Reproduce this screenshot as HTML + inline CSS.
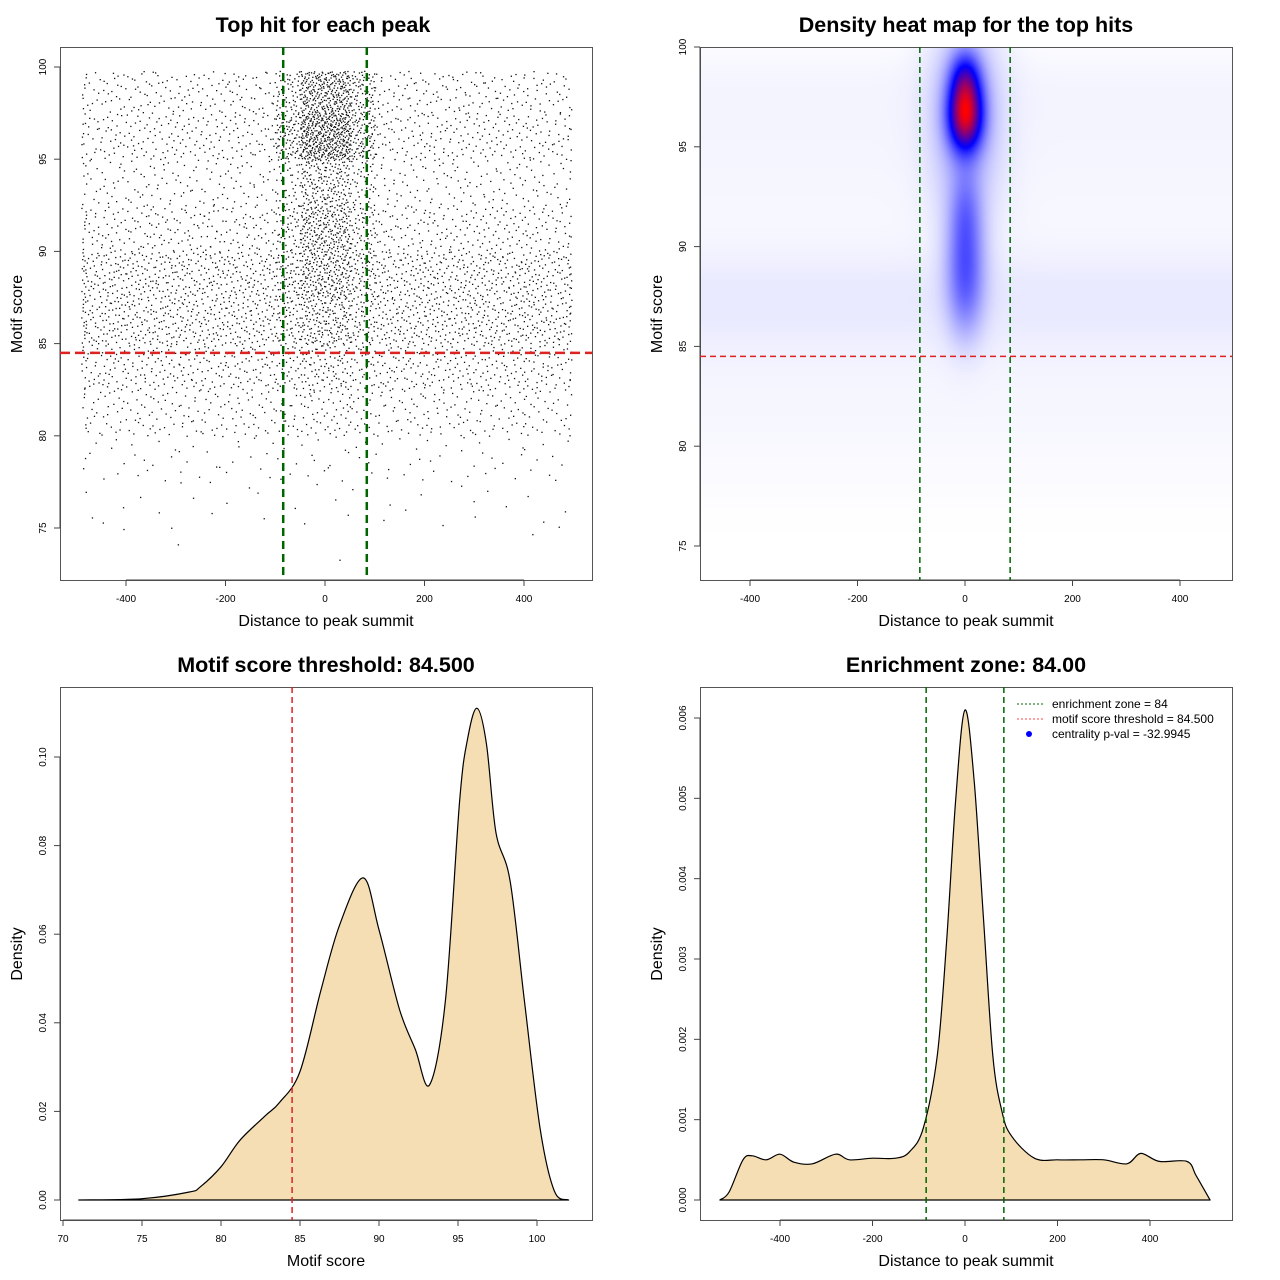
<!DOCTYPE html>
<html><head><meta charset="utf-8">
<style>
html,body{margin:0;padding:0;background:#fff;}
svg{display:block;font-family:"Liberation Sans",sans-serif;}
#hm{position:absolute;left:700px;top:47px;}
</style></head>
<body>
<div style="position:relative;width:1280px;height:1280px;">
<canvas id="hm" width="532" height="533"></canvas>
<svg id="s" width="1280" height="1280" style="position:absolute;left:0;top:0"></svg>
</div>
<script>
// ---------- data ----------
const scoreBinTops = [100, 97.5, 95, 92.5, 90, 87.5, 85, 82.5, 80, 77.5, 75];
const distBinLefts = [-500,-450,-400,-350,-300,-250,-200,-150,-100,-50,0,50,100,150,200,250,300,350,400,450];
const scatterCounts = [
 [18,22,22,22,22,22,22,22,60,150,160,80,22,22,22,22,22,22,22,18],
 [22,25,25,25,25,25,25,25,90,210,210,100,25,25,25,25,25,25,25,22],
 [14,16,16,16,16,16,16,16,35,85,85,40,16,16,16,16,16,16,16,14],
 [22,25,25,25,25,25,25,25,50,110,110,55,25,25,25,25,25,25,25,22],
 [40,45,45,45,45,45,45,45,65,105,105,65,45,45,45,45,45,45,45,40],
 [40,45,45,45,45,45,45,45,55,80,80,55,45,45,45,45,45,45,45,40],
 [26,30,30,30,30,30,30,30,35,45,45,35,30,30,30,30,30,30,30,26],
 [15,18,18,18,18,18,18,18,20,25,25,20,18,18,18,18,18,18,18,15],
 [4,5,5,5,5,5,5,5,5,6,6,5,5,5,5,5,5,5,5,4],
 [2,2,1,2,2,1,2,2,1,2,2,1,2,2,1,2,2,1,2,2],
 [0,1,0,0,1,0,0,0,0,0,1,0,0,0,0,0,0,0,1,0]
];
const blobDist   = [0,    0,    0,    0,    0,    0];
const blobScore  = [96.6, 98.5, 89.3, 92.0, 96.5, 87.0];
const blobSdDist = [22,   20,   25,   20,   45,   24];
const blobSdScore= [1.2,  1.0,  2.0,  1.5,  3.5,  1.5];
const blobWeight = [0.76, 0.32, 0.26, 0.12, 0.16, 0.08];
const bgBandScore = [98, 95, 92, 88, 85.5, 82, 79];
const bgBandLevel = [0.018,0.015,0.012,0.035,0.022,0.014,0.007];
const scoreX = [71,75,78,78.7,80,81.2,82.8,83.7,85,86.3,87.5,89,90,91.3,92.3,93.2,94.2,95.1,95.6,96.2,96.8,97.4,98.3,99.2,100.2,101.1,102];
const scoreD = [0,0.0003,0.0018,0.003,0.0075,0.0135,0.019,0.022,0.029,0.047,0.062,0.0727,0.061,0.043,0.034,0.026,0.045,0.09,0.104,0.111,0.103,0.083,0.072,0.045,0.016,0.002,0];
const distX = [-530,-510,-480,-460,-430,-400,-370,-330,-280,-250,-200,-150,-120,-90,-60,-40,-20,0,20,40,60,80,100,150,200,250,300,350,380,420,480,500,530];
const distD = [0,0.0001,0.0005,0.00055,0.0005,0.00057,0.00047,0.00045,0.00057,0.0005,0.00052,0.00052,0.0006,0.0009,0.0018,0.0032,0.005,0.0061,0.0052,0.0035,0.0018,0.0011,0.0008,0.00052,0.0005,0.0005,0.0005,0.00045,0.00058,0.00048,0.00048,0.0003,0];
const xTicksDist = [-400,-200,0,200,400];
const yTicksScore1 = [75,80,85,90,95,100];
const xTicksScore = [70,75,80,85,90,95,100];
const yTicksD3 = [0,0.02,0.04,0.06,0.08,0.10];
const yTicksD4 = [0,0.001,0.002,0.003,0.004,0.005,0.006];
const threshold = 84.5, zone = 84;

// ---------- helpers ----------
const NS='http://www.w3.org/2000/svg';
const svg=document.getElementById('s');
function el(tag,attrs,parent){const e=document.createElementNS(NS,tag);for(const k in attrs)e.setAttribute(k,attrs[k]);(parent||svg).appendChild(e);return e;}
function lin(d0,d1,r0,r1){return v=>r0+(v-d0)*(r1-r0)/(d1-d0);}
function frame(x0,y0,x1,y1,name){const r=el('rect',{x:x0+.5,y:y0+.5,width:x1-x0,height:y1-y0,fill:'none',stroke:'#555','stroke-width':1});

}
function text(x,y,s,size,opts){const t=el('text',Object.assign({x:x,y:y,'font-size':size,'text-anchor':'middle',fill:'#000'},opts||{}));t.textContent=s;return t;}
function xAxis(ticks,sx,yb,fmt,name){const g=el('g',{});


ticks.forEach(v=>{const x=sx(v);el('line',{x1:x,x2:x,y1:yb,y2:yb+6,stroke:'#444'},g);const t=el('text',{x:x,y:yb+22,'font-size':10,'text-anchor':'middle'},g);t.textContent=fmt(v);});
el('line',{x1:sx(ticks[0]),x2:sx(ticks[ticks.length-1]),y1:yb,y2:yb,stroke:'#444'},g);}
function yAxis(ticks,sy,xl,fmt,name){const g=el('g',{});


ticks.forEach(v=>{const y=sy(v);el('line',{x1:xl-6,x2:xl,y1:y,y2:y,stroke:'#444'},g);const t=el('text',{x:xl-14,y:y,'font-size':10,'text-anchor':'middle',transform:`rotate(-90 ${xl-14} ${y})`},g);t.textContent=fmt(v);});
el('line',{x1:xl,x2:xl,y1:sy(ticks[0]),y2:sy(ticks[ticks.length-1]),stroke:'#444'},g);}
function title(x,y,s,name){const t=text(x,y,s,21.5,{'font-weight':'bold'});

}
function label(x,y,s,rot,name){const t=text(x,y,s,16,rot?{transform:`rotate(-90 ${x} ${y})`}:{});

}
function vline(x,y0,y1,color,dash,w,name){const l=el('line',{x1:x,x2:x,y1:y0,y2:y1,stroke:color,'stroke-dasharray':dash,'stroke-width':w});

}
function hline(y,x0,x1,color,dash,w,name){const l=el('line',{x1:x0,x2:x1,y1:y,y2:y,stroke:color,'stroke-dasharray':dash,'stroke-width':w});

}
function halton(i,b){let f=1,r=0;while(i>0){f/=b;r+=f*(i%b);i=Math.floor(i/b);}return r;}
function smooth(pts){let d='M'+pts[0][0].toFixed(1)+','+pts[0][1].toFixed(1);
 for(let i=0;i<pts.length-1;i++){const p0=pts[Math.max(0,i-1)],p1=pts[i],p2=pts[i+1],p3=pts[Math.min(pts.length-1,i+2)];
  const c1=[p1[0]+(p2[0]-p0[0])/6,p1[1]+(p2[1]-p0[1])/6],c2=[p2[0]-(p3[0]-p1[0])/6,p2[1]-(p3[1]-p1[1])/6];
  d+=` C${c1[0].toFixed(1)},${c1[1].toFixed(1)} ${c2[0].toFixed(1)},${c2[1].toFixed(1)} ${p2[0].toFixed(1)},${p2[1].toFixed(1)}`;}
 return d;}
const fmtInt=v=>String(v);

// ---------- Panel 1 ----------
{const sx=lin(0,400,325,524), sy=lin(100,75,67,528);
const g=el('g',{});


let k=1;
scatterCounts.forEach((row,ri)=>{row.forEach((n,ci)=>{
 for(let i=0;i<n;i++,k++){
  let d=distBinLefts[ci]+halton(k,2)*50; let s=scoreBinTops[ri]-halton(k,3)*2.5;
  if(d<-490)d=-490+(d+500); if(d>495)d=495-(d-495);
  if(s>99.8)continue;
  el('rect',{x:sx(d).toFixed(1),y:sy(s).toFixed(1),width:1.3,height:1.3,fill:'#111'},g);
 }});});
frame(60,47,592,580,'plot-frame-scatter');
xAxis(xTicksDist,sx,580,fmtInt,'x-axis-scatter');
yAxis(yTicksScore1,sy,60,fmtInt,'y-axis-scatter');
vline(sx(-zone),47,580,'#006400','8,5',2.5,'enrichment-left-line');
vline(sx(zone),47,580,'#006400','8,5',2.5,'enrichment-right-line');
hline(sy(threshold),60,592,'#dd2222','10,5',2.5,'threshold-line');
title(323,32,'Top hit for each peak','title-scatter');
label(326,626,'Distance to peak summit',false,'x-axis-title-scatter');
label(22,314,'Motif score',true,'y-axis-title-scatter');}

// ---------- Panel 2 ----------
{const sx=lin(0,400,965,1180), sy=lin(100,75,47,546);
const c=document.getElementById('hm').getContext('2d');const W=532,H=533;const img=c.createImageData(W,H);
for(let py=0;py<H;py++){const s=100-(py)/20;
 let bg=0;bgBandScore.forEach((b,i)=>{bg+=bgBandLevel[i]*Math.exp(-0.5*((s-b)/1.6)**2);});
 for(let px=0;px<W;px++){const d=(px+700-965)/0.5375;
  let v=(Math.abs(d)<560)?bg:0;
  for(let i=0;i<blobDist.length;i++)v+=blobWeight[i]*Math.exp(-0.5*(((d-blobDist[i])/blobSdDist[i])**2+((s-blobScore[i])/blobSdScore[i])**2));
  v=Math.min(v,1);let r,g,b;
  if(v<0.5){const t=v/0.5;r=255*(1-t);g=255*(1-t);b=255;}else{const t=(v-0.5)/0.5;r=255*t;g=0;b=255*(1-t);}
  const o=(py*W+px)*4;img.data[o]=r;img.data[o+1]=g;img.data[o+2]=b;img.data[o+3]=255;}}
c.putImageData(img,0,0);
frame(700,47,1232,580,'plot-frame-heatmap');
xAxis(xTicksDist,sx,580,fmtInt,'x-axis-heatmap');
yAxis(yTicksScore1,sy,700,fmtInt,'y-axis-heatmap');
vline(sx(-zone),47,580,'#006400','6,4',1.5,'heatmap-enrichment-left');
vline(sx(zone),47,580,'#006400','6,4',1.5,'heatmap-enrichment-right');
hline(sy(threshold),700,1232,'#dd2222','6,4',1.5,'heatmap-threshold-line');
title(966,32,'Density heat map for the top hits','title-heatmap');
label(966,626,'Distance to peak summit',false,'x-axis-title-heatmap');
label(662,314,'Motif score',true,'y-axis-title-heatmap');}

// ---------- Panel 3 ----------
{const sx=lin(70,100,63,537), sy=lin(0,0.1,1200,757);
const d=smooth(scoreX.map((x,i)=>[sx(x),sy(scoreD[i])]));
const p=el('path',{d:d+' Z',fill:'#f5deb3',stroke:'#000','stroke-width':1.2,'stroke-linejoin':'round'});


frame(60,687,592,1220,'plot-frame-score-density');
xAxis(xTicksScore,sx,1220,fmtInt,'x-axis-score-density');
yAxis(yTicksD3,sy,60,v=>v.toFixed(2),'y-axis-score-density');
vline(sx(threshold),687,1220,'#dd2222','6,4',1.5,'score-threshold-line');
title(326,672,'Motif score threshold: 84.500','title-score-density');
label(326,1266,'Motif score',false,'x-axis-title-score-density');
label(22,954,'Density',true,'y-axis-title-score-density');}

// ---------- Panel 4 ----------
{const sx=lin(0,400,965,1150), sy=lin(0,0.006,1200,718);
const d=smooth(distX.map((x,i)=>[sx(x),sy(distD[i])]));
const p=el('path',{d:d+' Z',fill:'#f5deb3',stroke:'#000','stroke-width':1.2,'stroke-linejoin':'round'});


frame(700,687,1232,1220,'plot-frame-distance-density');
xAxis(xTicksDist,sx,1220,fmtInt,'x-axis-distance-density');
yAxis(yTicksD4,sy,700,v=>v.toFixed(3),'y-axis-distance-density');
vline(sx(-zone),687,1220,'#006400','6,4',1.5,'distance-enrichment-left');
vline(sx(zone),687,1220,'#006400','6,4',1.5,'distance-enrichment-right');
title(966,672,'Enrichment zone: 84.00','title-distance-density');
label(966,1266,'Distance to peak summit',false,'x-axis-title-distance-density');
label(662,954,'Density',true,'y-axis-title-distance-density');
const lg=el('g',{});


el('line',{x1:1017,x2:1043,y1:704,y2:704,stroke:'#006400','stroke-dasharray':'2,2'},lg);
el('line',{x1:1017,x2:1043,y1:719,y2:719,stroke:'#ff4444','stroke-dasharray':'2,2'},lg);
el('circle',{cx:1029,cy:734,r:3,fill:'#0000ff'},lg);
[['enrichment zone = 84',708],['motif score threshold = 84.500',723],['centrality p-val = -32.9945',738]].forEach(a=>{const t=el('text',{x:1052,y:a[1],'font-size':12},lg);t.textContent=a[0];});}
</script>
</body></html>
